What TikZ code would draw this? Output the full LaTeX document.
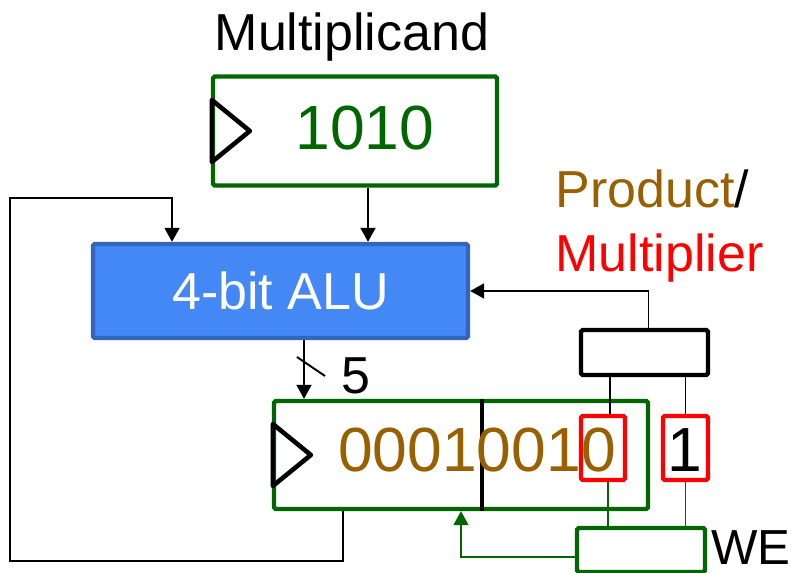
\documentclass[tikz,border=0pt]{standalone}
\usepackage{fontspec}
\setmainfont{Liberation Sans}
\usetikzlibrary{positioning,arrows.meta,calc}

\definecolor{regGreen}{RGB}{0,102,0}
\definecolor{prodBrown}{RGB}{153,96,0}
\definecolor{aluBlue}{RGB}{68,136,245}
\definecolor{aluEdge}{RGB}{52,100,190}

% clock mark on the left side of a register
\newcommand{\clocktri}[1]{\draw[clk_line] ($(#1.west)+(1,-31)$) -- ++(38,31) -- ++(-38,31) -- cycle;}

\begin{document}
\begin{tikzpicture}[
    x=0.02cm, y=-0.02cm,
    main_text/.style={font=\fontsize{29.6}{34}\selectfont, inner sep=0pt},
    digit_text/.style={font=\fontsize{35.5}{40}\selectfont, inner sep=0pt},
    reg_box/.style={rectangle, draw=regGreen, line width=2.5pt, rounded corners=1pt, inner sep=0pt},
    alu_box/.style={rectangle, draw=aluEdge, fill=aluBlue, line width=2.5pt, rounded corners=1pt, text=white, font=\fontsize{29.6}{34}\selectfont},
    bit_box/.style={rectangle, draw=red, line width=2.5pt, rounded corners=1pt, inner sep=0pt},
    ctl_box/.style={rectangle, draw=black, line width=2.5pt, rounded corners=1pt, inner sep=0pt},
    clk_line/.style={draw=black, line width=2.6pt, line join=round, line cap=round},
    wire/.style={draw=black, line width=1.1pt},
    gwire/.style={draw=regGreen, line width=0.9pt},
    tip/.style={-{Triangle[length=0.28cm,width=0.3cm]}}
]
\useasboundingbox (0,0) rectangle (795,573);

% Multiplicand register
\node[main_text, anchor=base] (mcand_lbl) at (352,51) {Multiplicand};
\node[reg_box, minimum width=5.68cm, minimum height=2.18cm] (mcand) at (355,131) {};
\clocktri{mcand}
\node[digit_text, text=regGreen, anchor=base] (mcand_val) at (365,150) {1010};

% ALU
\node[alu_box, minimum width=7.5cm, minimum height=1.88cm] (alu) at (280.5,291) {4-bit ALU};

% Product/Multiplier register
\node[reg_box, minimum width=7.48cm, minimum height=2.16cm] (reg) at (461,455) {};
\clocktri{reg}
\draw[line width=1.9pt] ($(reg.north)+(21,0)$) -- ($(reg.south)+(21,0)$);
\node[digit_text, text=prodBrown, anchor=base] (prod_val) at (477,472) {00010010};
\node[bit_box, minimum width=0.88cm, minimum height=1.28cm] (bit0) at (603,448) {};
\node[bit_box, minimum width=0.9cm, minimum height=1.28cm] (bit1) at (685.5,448) {};
\node[digit_text, anchor=base] (bit1_val) at (685,472) {1};

% control and write enable
\node[ctl_box, minimum width=2.54cm, minimum height=0.9cm] (ctl) at (644.5,352.5) {};
\node[reg_box, minimum width=2.56cm, minimum height=0.88cm] (we) at (641,550) {};

% Labels
\node[main_text, anchor=base west] (prod_lbl) at (555,208) {\textcolor{prodBrown}{Product}/};
\node[main_text, anchor=base west, text=red] (mplier_lbl) at (555,272) {Multiplier};
\node[main_text, anchor=base west] (bus_lbl) at (341,394) {5};
\node[main_text, anchor=base west, font=\fontsize{28}{32}\selectfont] (we_lbl) at (711,565) {WE};

% Data path
\draw[wire, tip] ([xshift=0.26cm]mcand.south) -- ([xshift=0.26cm]mcand.south |- alu.north);
\draw[wire, tip] ([xshift=0.47cm]alu.south) -- ([xshift=0.47cm]alu.south |- reg.north);
\draw[wire] (297,357) -- (325,376);
\draw[wire, tip] ($(ctl.north)+(4,0)$) |- (alu.east);
\coordinate (fb_low) at (10,561);
\coordinate (fb_high) at (10,198);
\draw[wire, tip] ([xshift=-2.36cm]reg.south) |- (fb_low) -- (fb_high) -| ([xshift=-2.17cm]alu.north);
\draw[wire] ([xshift=0.14cm]bit0.north) -- ([xshift=0.14cm]bit0.north |- ctl.south);
\draw[wire] (bit1.north) -- (bit1.north |- ctl.south);

% Write enable
\draw[gwire] ([xshift=0.1cm]bit0.south) -- ([xshift=0.1cm]bit0.south |- we.north);
\draw[gwire] (bit1.south) -- (bit1.south |- we.north);
\draw[gwire, tip] ([yshift=-0.14cm]we.west) -| (reg.south);

\end{tikzpicture}
\end{document}
